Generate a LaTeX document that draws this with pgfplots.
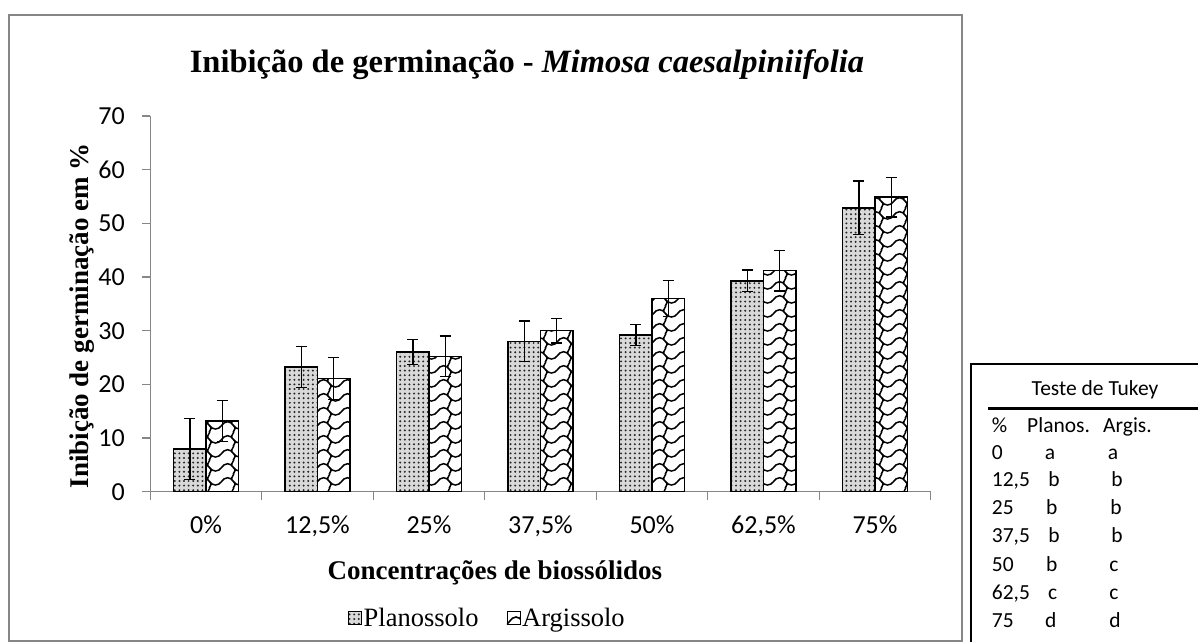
\documentclass[border=0pt]{standalone}
\usepackage{fontspec}
\setmainfont{Liberation Serif}
\newfontfamily\calibri{Carlito}
\usepackage{pgfplots}
\usepackage{pgfplotstable}
\pgfplotsset{compat=1.18}
\usetikzlibrary{patterns,patterns.meta}
\definecolor{axisgray}{RGB}{134,134,134}

\pgfdeclarepatternformonly{shingle}{\pgfpoint{0pt}{0pt}}{\pgfpoint{24pt}{14pt}}{\pgfpoint{24pt}{14pt}}{
  \pgfsetlinewidth{1.6pt}
  \pgfpathmoveto{\pgfpoint{-1pt}{3pt}}
  \pgfpathcurveto{\pgfpoint{6pt}{3pt}}{\pgfpoint{6pt}{11pt}}{\pgfpoint{12pt}{11pt}}
  \pgfpathcurveto{\pgfpoint{18pt}{11pt}}{\pgfpoint{18pt}{3pt}}{\pgfpoint{25pt}{3pt}}
  \pgfpathmoveto{\pgfpoint{18pt}{7pt}}
  \pgfpathcurveto{\pgfpoint{24pt}{2pt}}{\pgfpoint{12pt}{-2pt}}{\pgfpoint{18pt}{-7pt}}
  \pgfpathmoveto{\pgfpoint{18pt}{21pt}}
  \pgfpathcurveto{\pgfpoint{24pt}{16pt}}{\pgfpoint{12pt}{12pt}}{\pgfpoint{18pt}{7pt}}
  \pgfusepath{stroke}
}

\pgfplotstableread{
x  p    pe   a    ae
0  8.0  5.7  13.2 3.8
1  23.2 3.8  21.1 3.9
2  26.0 2.3  25.2 3.8
3  28.0 3.8  30.0 2.3
4  29.2 2.0  36.0 3.3
5  39.3 2.0  41.2 3.8
6  52.9 5.0  54.9 3.7
}\datatable

\begin{document}
\begin{tikzpicture}
\useasboundingbox (0pt,0pt) rectangle (1198pt,642pt);
\fill[white] (0pt,0pt) rectangle (1198pt,642pt);
% chart border
\draw[axisgray, line width=1.3pt] (9pt,1pt) rectangle (962pt,627pt);
% title
\node[font=\fontsize{32.5}{36}\selectfont\bfseries] at (527pt,577pt) {Inibição de germinação - \textit{Mimosa caesalpiniifolia}};

\begin{axis}[
  at={(150.25pt,150.3pt)}, anchor=south west,
  scale only axis, width=780.5pt, height=375.7pt,
  xmin=-0.5, xmax=6.5, ymin=0, ymax=70,
  ytick={0,10,...,70},
  xtick={0,...,6},
  xticklabels={{0\%},{12,5\%},{25\%},{37,5\%},{50\%},{62,5\%},{75\%}},
  minor xtick={-0.5,0.5,...,6.5},
  axis x line*=bottom, axis y line*=left,
  axis line style={draw=axisgray, line width=1.3pt},
  tick align=outside,
  major tick length=8pt, minor tick length=8pt,
  tick style={draw=axisgray, line width=1.3pt},
  major x tick style={draw=none},
  /pgf/number format/assume math mode=true,
  ticklabel style={font=\calibri\fontsize{26}{30}\selectfont},
  xticklabel style={yshift=-13pt},
  yticklabel style={xshift=-14pt},
  ybar, bar width=32.3pt,
  xlabel={Concentrações de biossólidos},
  xlabel style={at={(axis description cs:0.4417,-0.2164)}, anchor=center, font=\fontsize{27}{30}\selectfont\bfseries},
  ylabel={Inibição de germinação em \%},
  ylabel style={at={(axis description cs:-0.0878,0.4677)}, anchor=center, font=\fontsize{27}{30}\selectfont\bfseries},
  legend style={at={(axis description cs:0.432,-0.336)}, anchor=center, draw=none, fill=none,
    legend columns=2, font=\fontsize{26.5}{30}\selectfont,
    /tikz/every even column/.append style={column sep=26pt}},
  legend image code/.code={\draw[#1, line width=0.6pt] (0pt,-6.5pt) rectangle (13pt,6.5pt);},
]
\addplot[draw=black, line width=1.5pt, fill=black!15, bar shift=-16.15pt,
  postaction={pattern={Dots[distance=4.6pt, radius=1.1pt]}, pattern color=black!85},
  error bars/.cd, y dir=both, y explicit,
  error bar style={line width=1.3pt, black},
  error mark options={rotate=90, mark size=5.5pt, line width=1.3pt, black}]
  table[x=x, y=p, y error=pe] {\datatable};
\addplot[draw=black, line width=1.5pt, fill=white, bar shift=16.15pt,
  postaction={pattern=shingle, pattern color=black},
  error bars/.cd, y dir=both, y explicit,
  error bar style={line width=1.3pt, black},
  error mark options={rotate=90, mark size=5.5pt, line width=1.3pt, black}]
  table[x=x, y=a, y error=ae] {\datatable};
\legend{Planossolo, Argissolo}
\end{axis}

% Tukey table
\draw[black, line width=2pt] (970.7pt,0pt) -- (970.7pt,278pt) -- (1200pt,278pt);
\draw[black, line width=3pt] (988pt,233pt) -- (1200pt,233pt);
\begin{scope}[every node/.style={font=\calibri\fontsize{21.5}{24}\selectfont, inner sep=0pt}]
\node[anchor=base] at (1095pt,246pt) {Teste de Tukey};
\node[anchor=base west] at (991.7pt,209.3pt) {\%};
\node[anchor=base west] at (1027pt,209.3pt) {Planos.};
\node[anchor=base west] at (1103pt,209.3pt) {Argis.};
% rows
\node[anchor=base west] at (991.7pt,182pt) {0};
\node[anchor=base] at (1050pt,182pt) {a};
\node[anchor=base] at (1113pt,182pt) {a};
\node[anchor=base west] at (991.7pt,155pt) {12,5};
\node[anchor=base] at (1054pt,155pt) {b};
\node[anchor=base] at (1117pt,155pt) {b};
\node[anchor=base west] at (991.7pt,127pt) {25};
\node[anchor=base] at (1051.7pt,127pt) {b};
\node[anchor=base] at (1116pt,127pt) {b};
\node[anchor=base west] at (991.7pt,99pt) {37,5};
\node[anchor=base] at (1054pt,99pt) {b};
\node[anchor=base] at (1117pt,99pt) {b};
\node[anchor=base west] at (991.7pt,70.5pt) {50};
\node[anchor=base] at (1051.7pt,70.5pt) {b};
\node[anchor=base] at (1114pt,70.5pt) {c};
\node[anchor=base west] at (991.7pt,42pt) {62,5};
\node[anchor=base] at (1052.7pt,42pt) {c};
\node[anchor=base] at (1114pt,42pt) {c};
\node[anchor=base west] at (991.7pt,14.7pt) {75};
\node[anchor=base] at (1050.7pt,14.7pt) {d};
\node[anchor=base] at (1115pt,14.7pt) {d};
\end{scope}
\end{tikzpicture}
\end{document}
